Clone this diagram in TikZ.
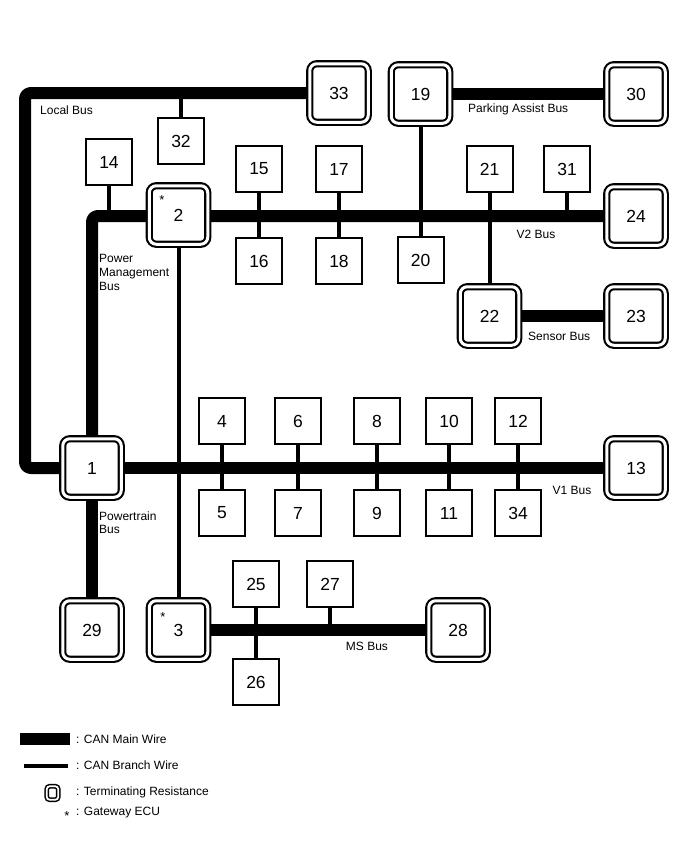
\documentclass[tikz,border=0pt]{standalone}
\usepackage{fontspec}
\setmainfont{Liberation Sans}
\usetikzlibrary{backgrounds}
\begin{document}
\begin{tikzpicture}[x=1pt,y=-1pt,
  term/.style={draw, fill=white, line width=2.1pt, double=white, double distance=3pt,
    rounded corners=7pt, minimum width=58.5pt, minimum height=58.5pt, inner sep=0pt,
    font=\fontsize{17.5}{20}\selectfont},
  ecubox/.style={draw, fill=white, line width=2pt, minimum width=46pt, minimum height=46pt,
    inner sep=0pt, font=\fontsize{17.5}{20}\selectfont},
  mainwire/.style={line width=12pt, rounded corners=6pt, line join=round},
  branchwire/.style={line width=4pt},
  buslabel/.style={font=\fontsize{12}{14}\selectfont, inner sep=0pt, align=left},
  legtext/.style={font=\fontsize{12}{14}\selectfont, inner sep=0pt, anchor=west},
  gw/.style={font=\fontsize{13}{13}\selectfont, inner sep=0pt}
]
\useasboundingbox (0,0) rectangle (688,852);

% ---------- terminating ECUs ----------
\node[term] (n1)  at (92,468) {1};
\node[term] (n2)  at (178.5,215) {2};
\node[term] (n3)  at (178.5,630) {3};
\node[term] (n13) at (636,468) {13};
\node[term] (n19) at (420.5,94) {19};
\node[term] (n22) at (489.5,316) {22};
\node[term] (n23) at (636,316) {23};
\node[term] (n24) at (636,216) {24};
\node[term] (n28) at (458,630) {28};
\node[term] (n29) at (92,630) {29};
\node[term] (n30) at (636,94) {30};
\node[term] (n33) at (339,93) {33};

% ---------- plain ECUs ----------
\node[ecubox] (n4)  at (222,421) {4};
\node[ecubox] (n5)  at (222,513) {5};
\node[ecubox] (n6)  at (298,421) {6};
\node[ecubox] (n7)  at (298,513) {7};
\node[ecubox] (n8)  at (377,421) {8};
\node[ecubox] (n9)  at (377,513) {9};
\node[ecubox] (n10) at (449,421) {10};
\node[ecubox] (n11) at (449,513) {11};
\node[ecubox] (n12) at (518,421) {12};
\node[ecubox] (n34) at (518,513) {34};
\node[ecubox] (n14) at (109,162) {14};
\node[ecubox] (n15) at (259,169) {15};
\node[ecubox] (n16) at (259,261) {16};
\node[ecubox] (n17) at (339,169) {17};
\node[ecubox] (n18) at (339,261) {18};
\node[ecubox] (n20) at (420.5,260) {20};
\node[ecubox] (n21) at (489.5,169) {21};
\node[ecubox] (n31) at (567,169) {31};
\node[ecubox] (n25) at (256,584) {25};
\node[ecubox] (n26) at (256,682) {26};
\node[ecubox] (n27) at (330,584) {27};
\node[ecubox] (n32) at (181,141) {32};

% gateway marks
\node[gw] (g2) at (162,200) {*};
\node[gw] (g3) at (163,617) {*};

% ---------- wires (behind nodes) ----------
\coordinate (lc) at (25,93);
\begin{scope}[on background layer]
  % main wires
  \draw[mainwire] (n33.center) -- (lc) |- (n1.center);
  \draw[mainwire] (n24.center) -| (n1.center);
  \draw[mainwire] (n1.center) -- (n13.center);
  \draw[mainwire] (n1.center) -- (n29.center);
  \draw[mainwire] (n19.center) -- (n30.center);
  \draw[mainwire] (n22.center) -- (n23.center);
  \draw[mainwire] (n3.center) -- (n28.center);
  % branch wires
  \draw[branchwire] (n32.center) -- (n32.center |- lc);
  \draw[branchwire] (n14.center) -- (n14.center |- n24.center);
  \draw[branchwire] (n15.center) -- (n16.center);
  \draw[branchwire] (n17.center) -- (n18.center);
  \draw[branchwire] (n19.center) -- (n20.center);
  \draw[branchwire] (n21.center) -- (n22.center);
  \draw[branchwire] (n31.center) -- (n31.center |- n24.center);
  \draw[branchwire] (n2.center) -- (n3.center);
  \draw[branchwire] (n4.center) -- (n5.center);
  \draw[branchwire] (n6.center) -- (n7.center);
  \draw[branchwire] (n8.center) -- (n9.center);
  \draw[branchwire] (n10.center) -- (n11.center);
  \draw[branchwire] (n12.center) -- (n34.center);
  \draw[branchwire] (n25.center) -- (n26.center);
  \draw[branchwire] (n27.center) -- (n27.center |- n28.center);
\end{scope}

% ---------- bus labels ----------
\node[buslabel, anchor=west] (lLocal) at (40,110) {Local Bus};
\node[buslabel, anchor=north west, font=\fontsize{12}{14}\selectfont] (lPM) at (99,254) {Power\\Management\\Bus};
\node[buslabel, anchor=west] (lPA) at (468,109) {Parking Assist Bus};
\node[buslabel] (lV2) at (536,234) {V2 Bus};
\node[buslabel, anchor=west] (lSens) at (528,336) {Sensor Bus};
\node[buslabel] (lV1) at (572,490) {V1 Bus};
\node[buslabel, anchor=north west, font=\fontsize{12}{13}\selectfont] (lPT) at (99,512) {Powertrain\\Bus};
\node[buslabel] (lMS) at (367,646) {MS Bus};

% ---------- legend ----------
\fill (20,733) rectangle (70,745);
\draw[branchwire] (24,766) -- (68,766);
\node[draw, line width=1.5pt, double=white, double distance=1.8pt, rounded corners=3pt,
  minimum width=11.5pt, minimum height=13.5pt, inner sep=0pt] (legterm) at (52.5,793) {};
\node[gw] (leggw) at (67,816) {*};
\node[legtext] (t1) at (76,739) {: CAN Main Wire};
\node[legtext] (t2) at (76,765) {: CAN Branch Wire};
\node[legtext] (t3) at (76,792) {: Terminating Resistance};
\node[legtext] (t4) at (76,813) {: Gateway ECU};
\end{tikzpicture}
\end{document}
